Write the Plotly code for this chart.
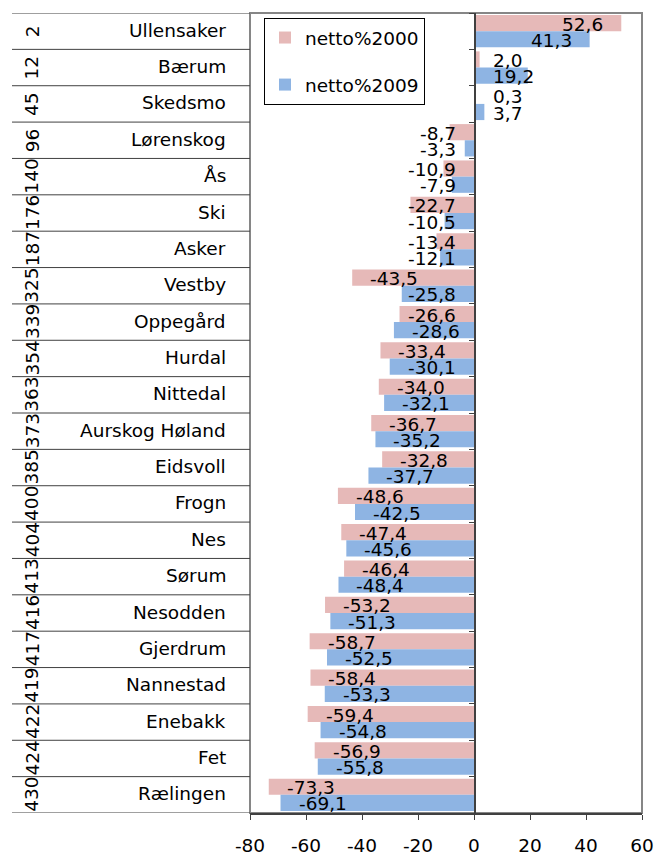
import plotly.graph_objects as go

names = ["Ullensaker", "Bærum", "Skedsmo", "Lørenskog", "Ås", "Ski", "Asker",
         "Vestby", "Oppegård", "Hurdal", "Nittedal", "Aurskog Høland", "Eidsvoll",
         "Frogn", "Nes", "Sørum", "Nesodden", "Gjerdrum", "Nannestad", "Enebakk",
         "Fet", "Rælingen"]
ranks = [2, 12, 45, 96, 140, 176, 187, 325, 339, 354, 363, 373, 385, 400, 404,
         413, 416, 417, 419, 422, 424, 430]
netto2000 = [52.6, 2.0, 0.3, -8.7, -10.9, -22.7, -13.4, -43.5, -26.6, -33.4, -34.0,
             -36.7, -32.8, -48.6, -47.4, -46.4, -53.2, -58.7, -58.4, -59.4, -56.9, -73.3]
netto2009 = [41.3, 19.2, 3.7, -3.3, -7.9, -10.5, -12.1, -25.8, -28.6, -30.1, -32.1,
             -35.2, -37.7, -42.5, -45.6, -48.4, -51.3, -52.5, -53.3, -54.8, -55.8, -69.1]
series_names = ["netto%2000", "netto%2009"]
x_ticks = [-80, -60, -40, -20, 0, 20, 40, 60]

W, H = 655, 856
ML, MR, MT, MB = 250, 13, 13, 43
PW = W - ML - MR
PH = H - MT - MB
XMIN, XMAX = -80, 60
PXU = PW / (XMAX - XMIN)
FONT = "DejaVu Sans"
FS = 18.5
PINK = "#E6B9B8"
BLUE = "#8EB4E3"
BARGAP = 0.11
N = len(names)

CW = {"-": 0.361, ",": 0.318}
def text_w(s):
    return sum(CW.get(c, 0.636) for c in s) * FS

def fmt(v):
    return f"{v:.1f}".replace(".", ",")

fig = go.Figure()
for vals, nm, col in [(netto2000, series_names[0], PINK), (netto2009, series_names[1], BLUE)]:
    fig.add_trace(go.Bar(
        x=vals, y=names, orientation="h", name=nm, legendgroup=nm,
        marker=dict(color=col, line=dict(width=0)),
    ))

annotations = []
off = (1 - BARGAP) / 4
PAD = 16
for si, vals in enumerate([netto2000, netto2009]):
    for i, v in enumerate(vals):
        t = fmt(v)
        w = text_w(t)
        yy = i - off if si == 0 else i + off
        if v < 0:
            right = v * PXU + PAD + w
            if right > -PAD:
                ax, anc, sh = 0, "right", -PAD
            else:
                ax, anc, sh = v, "left", PAD
        else:
            left = v * PXU - PAD - w
            if left < PAD + 1:
                ax, anc, sh = 0, "left", PAD + 1
            else:
                ax, anc, sh = v, "right", -PAD
        annotations.append(dict(
            x=ax, y=yy, xref="x", yref="y", text=t, showarrow=False,
            xanchor=anc, yanchor="middle", xshift=sh, yshift=-1,
            font=dict(family=FONT, size=FS, color="black"),
        ))

for i, (nm, rk) in enumerate(zip(names, ranks)):
    annotations.append(dict(
        x=0, y=i, xref="paper", yref="y", text=nm, showarrow=False,
        xanchor="right", yanchor="middle", xshift=-22, yshift=1,
        font=dict(family=FONT, size=FS, color="black"),
    ))
    annotations.append(dict(
        x=0, y=i, xref="paper", yref="y", text=str(rk), showarrow=False,
        xanchor="center", yanchor="middle", xshift=-218, textangle=-90,
        font=dict(family=FONT, size=FS, color="black"),
    ))

shapes = [dict(type="rect", xref="paper", yref="paper", x0=0, x1=1, y0=0, y1=1,
               line=dict(color="#868686", width=2), layer="below")]
for i in range(N + 1):
    shapes.append(dict(type="line", xref="paper", yref="y",
                       x0=-238 / PW, x1=0, y0=i - 0.5, y1=i - 0.5,
                       line=dict(color="#404040", width=1)))

fig.update_layout(
    width=W, height=H, autosize=False,
    margin=dict(l=ML, r=MR, t=MT, b=MB, autoexpand=False),
    paper_bgcolor="white", plot_bgcolor="white",
    barmode="group", bargap=BARGAP, bargroupgap=0,
    font=dict(family=FONT, size=FS, color="black"),
    showlegend=True,
    legend=dict(
        x=14 / PW, y=1 - 5 / PH, xanchor="left", yanchor="top",
        bgcolor="white", bordercolor="black", borderwidth=1,
        traceorder="grouped", tracegroupgap=20,
        font=dict(family=FONT, size=FS, color="black"),
    ),
    xaxis=dict(
        range=[XMIN, XMAX], tickvals=x_ticks, ticktext=[str(t) for t in x_ticks],
        ticks="outside", ticklen=5, tickcolor="#404040",
        showline=True, linecolor="#404040", linewidth=1.5,
        showgrid=False, zeroline=False, ticklabelstandoff=10, automargin=False,
        tickfont=dict(family=FONT, size=FS, color="black"),
    ),
    yaxis=dict(
        type="category", categoryorder="array", categoryarray=names,
        range=[N - 0.5, -0.5], anchor="free", position=(0 - XMIN) / (XMAX - XMIN),
        showline=True, linecolor="#404040", linewidth=1.5,
        ticks="outside", tickson="boundaries", ticklen=5, tickcolor="#404040",
        showticklabels=False, showgrid=False, zeroline=False, automargin=False,
    ),
    annotations=annotations,
    shapes=shapes,
)

fig.write_html(
    "out.html",
    config={"displayModeBar": False, "staticPlot": True},
    post_script="document.body.style.margin='0';document.body.style.overflow='hidden';",
)
